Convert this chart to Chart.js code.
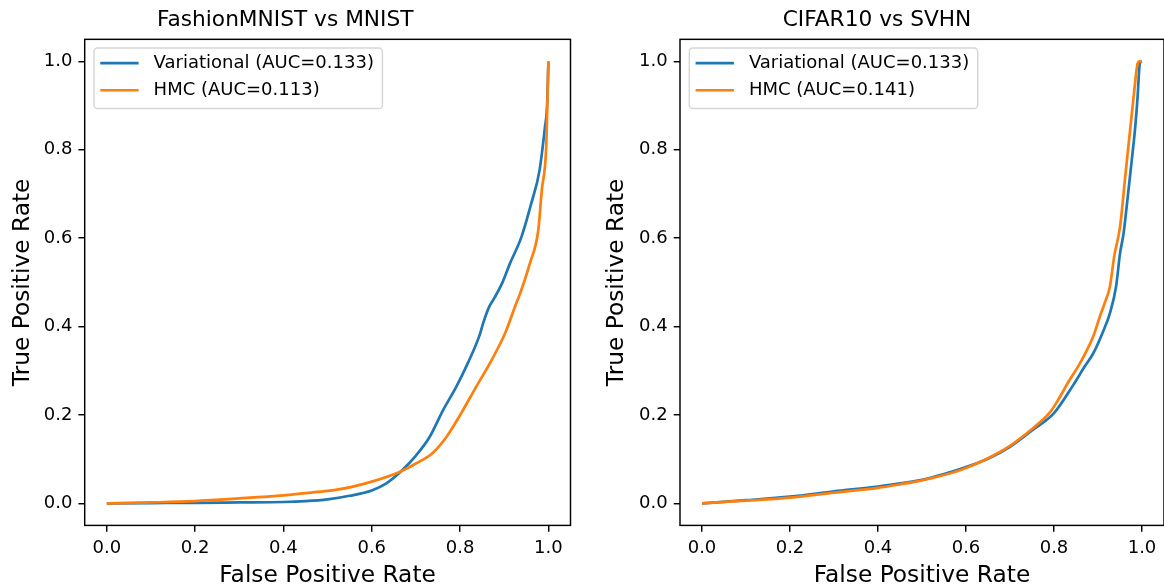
<!DOCTYPE html>
<html>
<head>
<meta charset="utf-8">
<script src="https://cdn.jsdelivr.net/npm/chart.js@4.4.1/dist/chart.umd.min.js"></script>
<style>
  html, body { margin: 0; padding: 0; background: #fff; }
  #wrap { position: relative; width: 1164px; height: 587px; overflow: hidden; }
  canvas { position: absolute; top: 0; }
  #leftChart { left: 0; }
  #rightChart { left: 590px; }
</style>
</head>
<body>
<div id="wrap">
  <canvas id="leftChart" width="590" height="587"></canvas>
  <canvas id="rightChart" width="574" height="587"></canvas>
</div>
<script>
const tickValues = [0, 0.2, 0.4, 0.6, 0.8, 1.0];
const tickLabels = ['0.0', '0.2', '0.4', '0.6', '0.8', '1.0'];
const seriesNames = ['Variational', 'HMC'];

// FashionMNIST vs MNIST
const fashionAuc = ['0.133', '0.113'];
const fashionVarFpr = [0, 0.1, 0.2, 0.3, 0.4, 0.45, 0.5, 0.55, 0.6, 0.633, 0.667, 0.7, 0.731, 0.761, 0.791, 0.817, 0.844, 0.853, 0.866, 0.879, 0.896, 0.913, 0.939, 0.961, 0.98, 0.992, 0.997, 1.0];
const fashionVarTpr = [0, 0.0005, 0.001, 0.002, 0.003, 0.005, 0.009, 0.017, 0.029, 0.045, 0.073, 0.108, 0.15, 0.21, 0.263, 0.316, 0.38, 0.41, 0.445, 0.467, 0.5, 0.543, 0.603, 0.678, 0.754, 0.85, 0.9, 1.0];
const fashionHmcFpr = [0, 0.1, 0.2, 0.3, 0.4, 0.45, 0.5, 0.55, 0.6, 0.663, 0.7, 0.738, 0.769, 0.802, 0.836, 0.867, 0.897, 0.906, 0.927, 0.936, 0.958, 0.977, 0.985, 0.995, 0.998, 1.0];
const fashionHmcTpr = [0, 0.002, 0.005, 0.011, 0.018, 0.023, 0.028, 0.036, 0.049, 0.071, 0.09, 0.114, 0.15, 0.203, 0.263, 0.316, 0.374, 0.395, 0.452, 0.475, 0.543, 0.618, 0.709, 0.807, 0.92, 1.0];

// CIFAR10 vs SVHN
const cifarAuc = ['0.133', '0.141'];
const cifarVarFpr = [0, 0.1, 0.2, 0.3, 0.4, 0.45, 0.5, 0.55, 0.6, 0.65, 0.7, 0.75, 0.8, 0.844, 0.87, 0.889, 0.91, 0.927, 0.941, 0.95, 0.958, 0.965, 0.976, 0.984, 0.99, 0.995, 1.0];
const cifarVarTpr = [0, 0.007, 0.015, 0.027, 0.038, 0.045, 0.053, 0.066, 0.082, 0.101, 0.128, 0.165, 0.204, 0.268, 0.31, 0.339, 0.385, 0.43, 0.49, 0.565, 0.61, 0.67, 0.77, 0.845, 0.92, 0.995, 1.0];
const cifarHmcFpr = [0, 0.1, 0.2, 0.3, 0.4, 0.45, 0.5, 0.55, 0.6, 0.65, 0.7, 0.75, 0.79, 0.81, 0.833, 0.855, 0.874, 0.89, 0.905, 0.917, 0.927, 0.937, 0.95, 0.963, 0.973, 0.982, 0.99, 0.995, 1.0];
const cifarHmcTpr = [0, 0.006, 0.013, 0.024, 0.035, 0.043, 0.052, 0.064, 0.08, 0.102, 0.13, 0.168, 0.205, 0.235, 0.275, 0.31, 0.345, 0.38, 0.425, 0.458, 0.49, 0.56, 0.625, 0.75, 0.845, 0.93, 0.995, 1.0, 1.0];

const BLUE = '#1f77b4';
const ORANGE = '#ff7f0e';
const FONT = "'DejaVu Sans', sans-serif";

const pts = (fpr, tpr) => fpr.map((x, i) => ({ x, y: tpr[i] }));

// full black frame around the plot area, like matplotlib spines
const axesBox = {
  id: 'axesBox',
  afterDatasetsDraw(chart) {
    const { ctx, chartArea: a } = chart;
    ctx.save();
    ctx.strokeStyle = '#000';
    ctx.lineWidth = 1.45;
    ctx.strokeRect(a.left, a.top, a.right - a.left, a.bottom - a.top);
    ctx.restore();
  }
};

// framed legend in the upper left corner
const boxLegend = {
  id: 'boxLegend',
  afterDraw(chart) {
    const { ctx, chartArea } = chart;
    const sets = chart.data.datasets;
    ctx.save();
    ctx.font = `18px ${FONT}`;
    const textW = Math.max(...sets.map(d => ctx.measureText(d.label).width));
    const pad = 6.3, handle = 38.3, gap = 15;
    const x0 = chartArea.left + 9.3, y0 = chartArea.top + 8.7;
    const w = pad + handle + gap + textW + 8.5, h = 60.5;
    ctx.beginPath();
    ctx.roundRect(x0, y0, w, h, 3.6);
    ctx.fillStyle = 'rgba(255,255,255,0.8)';
    ctx.fill();
    ctx.strokeStyle = 'rgba(204,204,204,0.8)';
    ctx.lineWidth = 1.45;
    ctx.stroke();
    sets.forEach((d, i) => {
      const ry = y0 + 15 + i * 27.2;
      ctx.strokeStyle = d.borderColor;
      ctx.lineWidth = d.borderWidth;
      ctx.beginPath();
      ctx.moveTo(x0 + pad, ry);
      ctx.lineTo(x0 + pad + handle, ry);
      ctx.stroke();
      ctx.fillStyle = '#000';
      ctx.textBaseline = 'middle';
      ctx.fillText(d.label, x0 + pad + handle + gap, ry);
    });
    ctx.restore();
  }
};

function axis(dir, yTitlePad, yWidth) {
  const cfg = {
    type: 'linear', min: -0.05, max: 1.05,
    afterBuildTicks: a => { a.ticks = tickValues.map(v => ({ value: v })); },
    ticks: { callback: (v, i) => tickLabels[i], font: { family: FONT, size: 18 }, color: '#000', padding: 6, autoSkip: false, maxRotation: 0 },
    grid: { drawOnChartArea: false, drawTicks: true, tickLength: 6.3, color: '#000', lineWidth: 1.45 },
    border: { display: false },
    title: { display: true, color: '#000', font: { family: FONT, size: 23.3 } }
  };
  if (dir === 'x') {
    cfg.afterFit = a => { a.height = 61.6; a.paddingLeft = 0; a.paddingRight = 0; };
    cfg.title.text = 'False Positive Rate';
    cfg.title.padding = { top: 0, bottom: -2.7 };
  } else {
    cfg.afterFit = a => { a.width = yWidth; a.paddingTop = 0; a.paddingBottom = 0; };
    cfg.title.text = 'True Positive Rate';
    cfg.title.padding = { top: yTitlePad, bottom: 0 };
  }
  return cfg;
}

function makeChart(id, title, auc, varF, varT, hmcF, hmcT, yWidth, yTitlePad, padRight) {
  const line = { borderWidth: 2.7, pointRadius: 0, cubicInterpolationMode: 'monotone' };
  return new Chart(document.getElementById(id), {
    type: 'line',
    data: {
      datasets: [
        { ...line, label: `${seriesNames[0]} (AUC=${auc[0]})`, data: pts(varF, varT), borderColor: BLUE, order: 1 },
        { ...line, label: `${seriesNames[1]} (AUC=${auc[1]})`, data: pts(hmcF, hmcT), borderColor: ORANGE, order: 0 }
      ]
    },
    options: {
      responsive: false, animation: false, events: [],
      layout: { padding: { left: 0, right: padRight, top: 0, bottom: 0 } },
      plugins: {
        legend: { display: false },
        tooltip: { enabled: false },
        title: { display: true, text: title, color: '#000', font: { family: FONT, size: 21.7, weight: 'normal' }, padding: { top: 7.4, bottom: 5.9 } }
      },
      scales: { x: axis('x'), y: axis('y', yTitlePad, yWidth) }
    },
    plugins: [axesBox, boxLegend]
  });
}

makeChart('leftChart', 'FashionMNIST vs MNIST', fashionAuc, fashionVarFpr, fashionVarTpr, fashionHmcFpr, fashionHmcTpr, 84.7, 9, 19.5);
makeChart('rightChart', 'CIFAR10 vs SVHN', cifarAuc, cifarVarFpr, cifarVarTpr, cifarHmcFpr, cifarHmcTpr, 90, 13, 0);
</script>
</body>
</html>
